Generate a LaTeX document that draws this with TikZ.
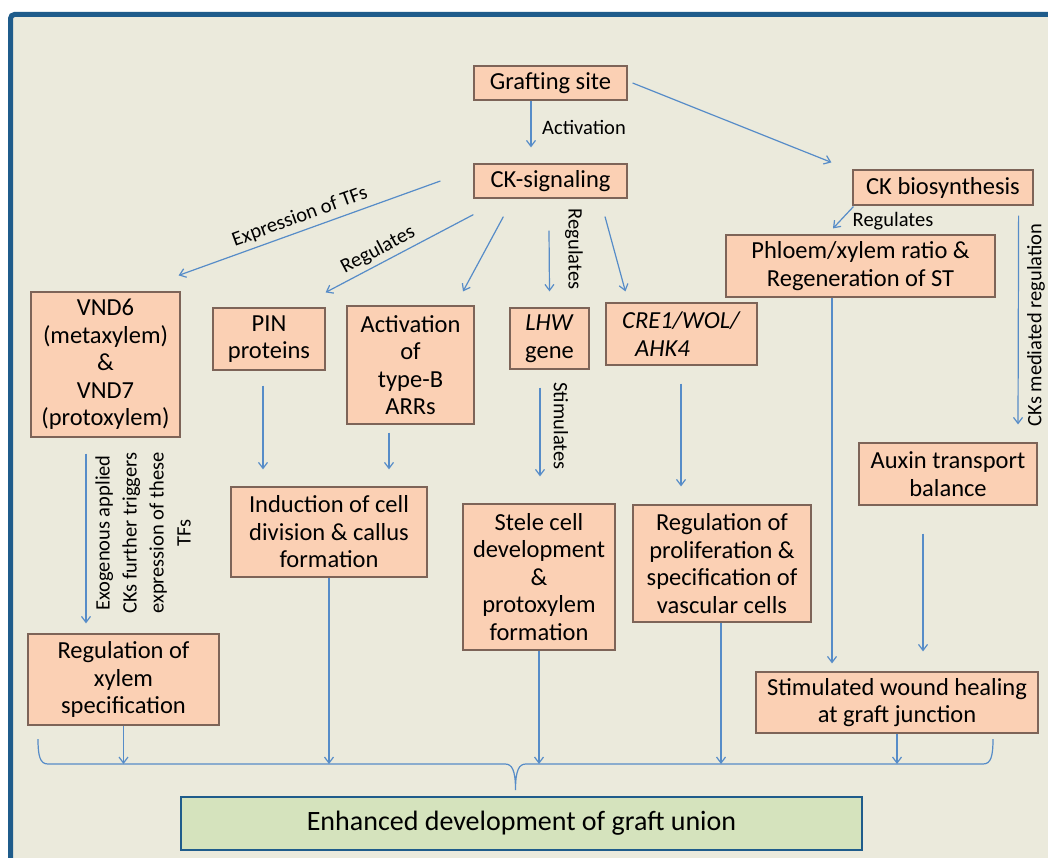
\documentclass[tikz,border=0pt]{standalone}
\usepackage{fontspec}
\setmainfont{Carlito}
\usetikzlibrary{arrows.meta}
\definecolor{bgbeige}{RGB}{235,234,220}
\definecolor{frameblue}{RGB}{31,92,139}
\definecolor{boxfill}{RGB}{251,208,180}
\definecolor{boxline}{RGB}{125,100,88}
\definecolor{arrowcol}{RGB}{86,140,200}
\definecolor{greenfill}{RGB}{213,227,189}
\tikzset{
  box/.style={draw=boxline, fill=boxfill, line width=1.2pt, inner sep=0pt, align=center,
    font=\fontsize{24.5}{27.5}\selectfont},
  lab/.style={font=\fontsize{20.5}{25}\selectfont, inner sep=0pt, align=center},
  arr/.style={draw=arrowcol, line width=1.2pt, -{Straight Barb[length=6pt,width=9pt]}},
  brace/.style={draw=arrowcol, line width=1.2pt}
}
\begin{document}
\begin{tikzpicture}[x=1pt,y=-1pt]
\useasboundingbox (0,0) rectangle (1048,858);
\fill[white] (0,0) rectangle (1048,858);
\draw[frameblue, line width=5pt, fill=bgbeige, rounded corners=4pt] (10.5,14.5) rectangle (1070,880);

% boxes
\node[box, minimum width=153pt, minimum height=34pt] (graft) at (550.5,83) {Grafting site};
\node[box, minimum width=153pt, minimum height=34pt] (cks) at (550.5,181) {CK-signaling};
\node[box, minimum width=180pt, minimum height=35pt] (ckb) at (943,187.5) {CK biosynthesis};
\node[box, minimum width=269pt, minimum height=62pt] (phl) at (860.5,266) {Phloem/xylem ratio \&\\Regeneration of ST};
\node[box, minimum width=149pt, minimum height=145pt] (vnd) at (105.5,364.5) {VND6\\(metaxylem)\\\&\\VND7\\(protoxylem)};
\node[box, minimum width=112pt, minimum height=62pt] (pin) at (269,339) {PIN\\proteins};
\node[box, minimum width=127pt, minimum height=118pt] (arrb) at (410.5,365) {Activation\\of\\type-B\\ARRs};
\node[box, minimum width=79pt, minimum height=61pt] (lhw) at (549.5,338.5) {\textit{LHW}\\gene};
\node[box, minimum width=151pt, minimum height=62pt, align=left] (cre) at (681.5,334) {\textit{CRE1/WOL/}\\\hspace*{13pt}\textit{AHK4}};
\node[box, minimum width=178pt, minimum height=62pt] (aux) at (948,474) {Auxin transport\\balance};
\node[box, minimum width=196pt, minimum height=90pt] (ind) at (329,532) {Induction of cell\\division \& callus\\formation};
\node[box, minimum width=152pt, minimum height=146pt] (ste) at (539,577) {Stele cell\\development\\\&\\protoxylem\\formation};
\node[box, minimum width=178pt, minimum height=117pt] (reg) at (722,563.5) {Regulation of\\proliferation \&\\specification of\\vascular cells};
\node[box, minimum width=191pt, minimum height=91pt] (xyl) at (123.5,679.5) {Regulation of\\xylem\\specification};
\node[box, minimum width=282pt, minimum height=61pt] (wnd) at (897,702.5) {Stimulated wound healing\\at graft junction};
\node[draw=frameblue, fill=greenfill, line width=2.5pt, inner sep=0pt,
  minimum width=681pt, minimum height=53pt, font=\fontsize{28}{32}\selectfont] (enh) at (521.5,823.5) {Enhanced development of graft union};

% arrows
\draw[arr] ([xshift=-19.5pt]graft.south) -- ([xshift=-19.5pt,yshift=16pt]cks.north);
\draw[arr] ([xshift=5pt]graft.east) -- ([xshift=-21pt,yshift=7pt]ckb.north west);
\draw[arr] ([xshift=-33pt]cks.west) -- ([xshift=-2pt,yshift=16pt]vnd.north east);
\draw[arr] ([yshift=-16pt]cks.south west) -- ([yshift=15pt]pin.north east);
\draw[arr] ([xshift=30pt,yshift=-18pt]cks.south west) -- ([xshift=52.5pt,yshift=14pt]arrb.north);
\draw[arr] ([xshift=-1.5pt,yshift=-32pt]cks.south) -- ([yshift=16pt]lhw.north);
\draw[arr] ([xshift=54.5pt,yshift=-18pt]cks.south) -- ([xshift=20pt,yshift=11pt]cre.north west);
\draw[arr] ([xshift=1pt,yshift=-1pt]ckb.south west) -- ([xshift=-27.5pt,yshift=6pt]phl.north);
\draw[arr] ([xshift=-15pt,yshift=-10pt]ckb.south east) -- ([xshift=70pt,yshift=18pt]aux.north);
\draw[arr] ([xshift=-28.5pt]phl.south) -- ([xshift=-65pt,yshift=8pt]wnd.north);
\draw[arr] ([xshift=-19.5pt,yshift=-16pt]vnd.south) -- ([xshift=-37.5pt,yshift=10pt]xyl.north);
\draw[arr] ([xshift=-6pt,yshift=-15pt]pin.south) -- ([xshift=-66pt,yshift=17pt]ind.north);
\draw[arr] ([xshift=-21.5pt,yshift=-8pt]arrb.south) -- ([xshift=60pt,yshift=17pt]ind.north);
\draw[arr] ([xshift=-9.5pt,yshift=-18pt]lhw.south) -- ([xshift=1pt,yshift=27pt]ste.north);
\draw[arr] ([xshift=-0.5pt,yshift=-18pt]cre.south) -- ([xshift=-41pt,yshift=18pt]reg.north);
\draw[arr] ([xshift=-25pt,yshift=-28pt]aux.south) -- ([xshift=26pt,yshift=20pt]wnd.north);

% brace
\coordinate (bl) at (38,739);
\coordinate (br) at (993,739);
\coordinate (btip) at (515.5,790);
\coordinate (b1) at (123.5,764);
\coordinate (b2) at (329,764);
\coordinate (b3) at (539,764);
\coordinate (b4) at (721,764);
\coordinate (b5) at (897,764);
\draw[brace] (bl) .. controls (38,756) and (40,764) .. (48,764) -- (505,764)
  .. controls (512,764) and (515.5,770) .. (btip)
  .. controls (515.5,770) and (519,764) .. (526,764) -- (983,764)
  .. controls (991,764) and (993,756) .. (br);
\draw[arr] (xyl.south) -- (b1);
\draw[arr] (ind.south) -- (b2);
\draw[arr] (ste.south) -- (b3);
\draw[arr] ([xshift=-1pt]reg.south) -- (b4);
\draw[arr] (wnd.south) -- (b5);

% labels
\node[lab] (lact) at (584,127) {Activation};
\node[lab, rotate=20] (lexp) at (300,217) {Expression of TFs};
\node[lab, rotate=28] (lreg1) at (378,250) {Regulates};
\node[lab, rotate=-90] (lreg2) at (574,249) {Regulates};
\node[lab] (lreg3) at (893,221) {Regulates};
\node[lab, rotate=90] (lckm) at (1036,325) {CKs mediated regulation};
\node[lab, rotate=90, font=\fontsize{20.5}{27}\selectfont] (lexo) at (143,533) {Exogenous applied\\CKs further triggers\\expression of these\\TFs};
\node[lab, rotate=-90] (lsti) at (561,426) {Stimulates};
\end{tikzpicture}
\end{document}
